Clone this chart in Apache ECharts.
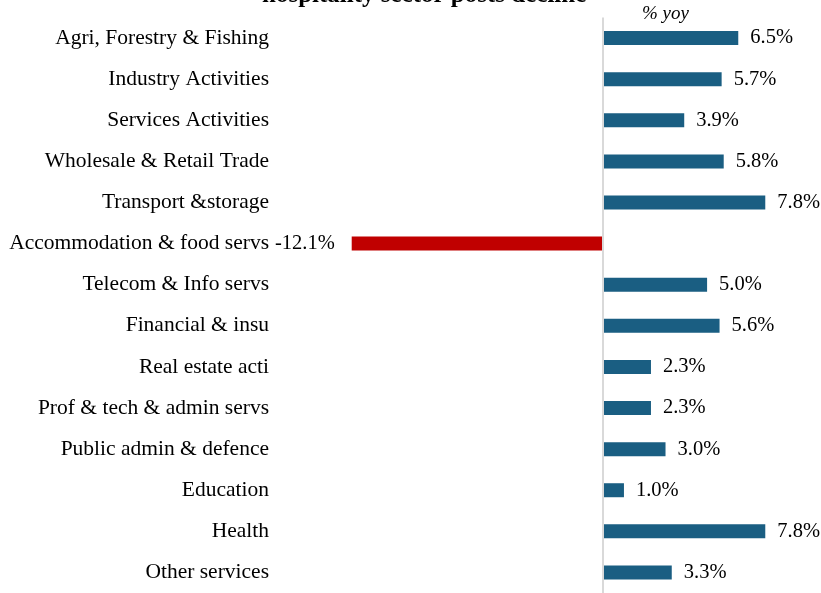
<!DOCTYPE html>
<html><head><meta charset="utf-8">
<script src="https://cdn.jsdelivr.net/npm/echarts@6/dist/echarts.min.js"></script>
<style>html,body{margin:0;padding:0;background:#fff}#c{width:821px;height:593px}</style>
</head><body><div id="c"></div>
<script>
var categories = ["Agri, Forestry & Fishing","Industry Activities","Services Activities","Wholesale & Retail Trade","Transport &storage","Accommodation & food servs","Telecom & Info servs","Financial & insu","Real estate acti","Prof & tech & admin servs","Public admin & defence","Education","Health","Other services"];
var values = [6.5, 5.7, 3.9, 5.8, 7.8, -12.1, 5.0, 5.6, 2.3, 2.3, 3.0, 1.0, 7.8, 3.3];
var titleText = "hospitality sector posts decline";
var unitText = "% yoy";

var chart = echarts.init(document.getElementById('c'));
var font = "'Liberation Serif', 'Times New Roman', serif";
chart.setOption({
  animation: false,
  graphic: [
    {type:'text', left: 262, top: -17, style:{text: titleText, font: "bold 25px " + font, fill:'#000'}},
    {type:'text', left: 642, top: 4, style:{text: unitText, font: "italic 19px " + font, fill:'#000'}}
  ],
  grid: {left: 333, top: 17.5, width: 478, height: 579.6, containLabel: false},
  xAxis: {type:'value', min:-13, max:10, show:false},
  yAxis: {type:'category', data: categories, inverse: true,
    axisLine:{show:false}, axisTick:{show:false},
    axisLabel:{margin: 64, fontFamily: font, fontSize: 21.5, color:'#000', padding:[3,0,0,0]}},
  series: [{
    type:'bar', barWidth: 14,
    data: values.map(function(v){ return {value: v,
      itemStyle:{color: v < 0 ? '#c00000' : '#1a5e82'},
      label:{position: v < 0 ? 'left' : 'right', distance: v < 0 ? 17 : 12}}; }),
    label:{show:true, fontFamily: font, fontSize: 20.5, color:'#000', padding:[3,0,0,0],
      formatter: function(p){ return p.value.toFixed(1) + '%'; }},
    markLine:{silent:true, symbol:'none', label:{show:false},
      lineStyle:{color:'#d9d9d9', width:2, type:'solid'},
      data:[{xAxis:0}]}
  }]
});
</script></body></html>
